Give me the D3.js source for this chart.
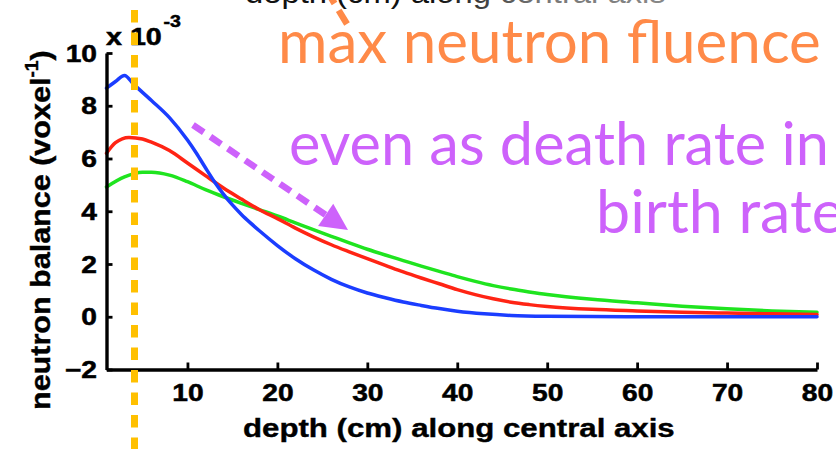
<!DOCTYPE html>
<html>
<head>
<meta charset="utf-8">
<script src="https://cdn.jsdelivr.net/npm/d3@7"></script>
<style>
  html, body { margin: 0; padding: 0; background: #fff; overflow: hidden; }
  svg { display: block; }
</style>
</head>
<body>
<script>
// Depth along the central axis (cm) and neutron balance (x 1e-3 per voxel)
const depthTicks = [10, 20, 30, 40, 50, 60, 70, 80];
const balanceTicks = [-2, 0, 2, 4, 6, 8, 10];

const blueDepth   = [1, 2, 3, 4, 6, 8, 10, 11, 12, 13, 14, 15, 16, 17, 18, 20, 22, 24, 26, 28, 30, 32, 34, 36, 38, 40, 43, 46, 50, 55, 60, 70, 80];
const blueBalance = [8.67, 8.92, 9.15, 8.82, 8.2, 7.55, 6.7, 6.2, 5.65, 5.12, 4.65, 4.24, 3.88, 3.56, 3.26, 2.7, 2.2, 1.78, 1.42, 1.13, 0.9, 0.72, 0.56, 0.43, 0.31, 0.21, 0.11, 0.05, 0.02, 0.01, 0.0, 0.0, 0.0];

const redDepth   = [1, 2, 3.5, 5, 6, 8, 10, 12, 14, 16, 18, 20, 22, 24, 26, 28, 30, 32, 34, 36, 38, 40, 42, 44, 46, 48, 50, 55, 60, 65, 70, 75, 80];
const redBalance = [6.2, 6.6, 6.8, 6.74, 6.62, 6.3, 5.83, 5.35, 4.88, 4.46, 4.06, 3.72, 3.36, 3.03, 2.73, 2.46, 2.2, 1.95, 1.7, 1.47, 1.25, 1.03, 0.84, 0.68, 0.55, 0.46, 0.39, 0.28, 0.22, 0.17, 0.14, 0.11, 0.09];

const greenDepth   = [1, 3, 5, 6, 8, 10, 12, 14, 16, 18, 20, 22, 24, 26, 28, 30, 32, 34, 36, 38, 40, 42, 44, 46, 48, 50, 55, 60, 65, 70, 75, 80];
const greenBalance = [4.92, 5.3, 5.48, 5.48, 5.37, 5.12, 4.82, 4.55, 4.3, 4.06, 3.82, 3.56, 3.3, 3.05, 2.8, 2.56, 2.34, 2.13, 1.92, 1.72, 1.52, 1.34, 1.18, 1.05, 0.94, 0.84, 0.66, 0.53, 0.4, 0.3, 0.22, 0.17];

const seriesColors = ["#1b3dff", "#ff2414", "#1fe41f"];

const W = 836, H = 449;
const svg = d3.select("body").append("svg").attr("width", W).attr("height", H);

const x = d3.scaleLinear().domain([1, 80]).range([106.5, 817]);
const y = d3.scaleLinear().domain([-2, 10]).range([369.5, 53]);

const AXIS_FONT = "'Liberation Sans', Arial, Helvetica, sans-serif";
const SLIDE_FONT = "Lato, 'Open Sans', sans-serif";

// horizontal factor that makes a text element's advance equal `width`
function fitWidth(sel, width) {
  return width / sel.node().getComputedTextLength();
}

// ---- top caption (cut off by the top edge), fading to grey on the right
{
  const grad = svg.append("defs").append("linearGradient")
    .attr("id", "captionFade").attr("x1", 0).attr("x2", 1).attr("y1", 0).attr("y2", 0);
  grad.append("stop").attr("offset", "0%").attr("stop-color", "#111");
  grad.append("stop").attr("offset", "45%").attr("stop-color", "#111");
  grad.append("stop").attr("offset", "70%").attr("stop-color", "#777");
  grad.append("stop").attr("offset", "100%").attr("stop-color", "#888");
  const g = svg.append("g");
  const t = g.append("text")
    .attr("font-family", AXIS_FONT).attr("font-size", 30).attr("fill", "url(#captionFade)")
    .text("depth (cm) along central axis");
  const k = fitWidth(t, 421);
  g.attr("transform", `translate(245,3) scale(${k},1)`);
}

// ---- curves
const line = d3.line().x(d => x(d[0])).y(d => y(d[1])).curve(d3.curveMonotoneX);
const series = [
  [greenDepth, greenBalance, seriesColors[2]],
  [redDepth, redBalance, seriesColors[1]],
  [blueDepth, blueBalance, seriesColors[0]]
];
series.forEach(([dx, dv, c]) => {
  svg.append("path")
    .datum(dx.map((d, i) => [d, dv[i]]))
    .attr("fill", "none").attr("stroke", c).attr("stroke-width", 3.5)
    .attr("stroke-linejoin", "round").attr("stroke-linecap", "round")
    .attr("d", line);
});

// ---- axes (ticks pointing inward)
const TK = 1.2; // horizontal stretch for the axis lettering
const xAxisG = svg.append("g").attr("transform", `translate(0,${y(-2)})`)
  .call(d3.axisBottom(x).tickValues(depthTicks).tickSize(-7).tickSizeOuter(0).tickFormat(d3.format("d")));
const yAxisG = svg.append("g").attr("transform", `translate(${x(1)},0)`)
  .call(d3.axisLeft(y).tickValues(balanceTicks).tickSize(-6).tickSizeOuter(0).tickFormat(d3.format("d")));

[xAxisG, yAxisG].forEach(g => {
  g.select(".domain").attr("stroke", "#000").attr("stroke-width", 3.4);
  g.selectAll(".tick line").attr("stroke", "#000").attr("stroke-width", 2.8);
  g.selectAll(".tick text")
    .attr("fill", "#000").attr("stroke", "#000").attr("stroke-width", 0.5)
    .attr("font-family", AXIS_FONT).attr("font-size", 23.5).attr("font-weight", "bold");
});
xAxisG.selectAll(".tick text")
  .attr("y", 31.5).attr("dy", null)
  .attr("transform", `scale(${TK},1)`);
yAxisG.selectAll(".tick text")
  .attr("x", -9.5 / TK).attr("dy", "0.35em")
  .attr("transform", `scale(${TK},1)`);

// exponent above the y axis
{
  const t = svg.append("text")
    .attr("font-family", AXIS_FONT).attr("font-weight", "bold").attr("fill", "#000")
    .attr("stroke", "#000").attr("stroke-width", 0.5)
    .attr("transform", `translate(106,45) scale(1.22,1)`);
  t.append("tspan").attr("font-size", 23.5).text("x 10");
  t.append("tspan").attr("font-size", 16).attr("dy", -18).attr("dx", 1.5).text("-3");
}

// axis titles
{
  const g = svg.append("g");
  const t = g.append("text")
    .attr("font-family", AXIS_FONT).attr("font-size", 26.5).attr("font-weight", "bold").attr("fill", "#000")
    .attr("stroke", "#000").attr("stroke-width", 0.4)
    .text("depth (cm) along central axis");
  const k = fitWidth(t, 432);
  g.attr("transform", `translate(243,437) scale(${k},1)`);
}
{
  const g = svg.append("g");
  const t = g.append("text")
    .attr("font-family", AXIS_FONT).attr("font-size", 28.5).attr("font-weight", "bold").attr("fill", "#000")
    .attr("stroke", "#000").attr("stroke-width", 0.4);
  t.append("tspan").text("neutron balance (voxel");
  t.append("tspan").attr("font-size", 18).attr("dy", -12).text("-1");
  t.append("tspan").attr("dy", 12).text(")");
  const k = fitWidth(t, 360);
  g.attr("transform", `translate(49.5,410) rotate(-90) scale(${k},1)`);
}

// ---- slide annotations
const ORANGE = "#ff8a48", PURPLE = "#cd62fb";

function slideText(str, x0, base, width, color) {
  const g = svg.append("g");
  const t = g.append("text")
    .attr("font-family", SLIDE_FONT).attr("font-size", 60).attr("fill", color).text(str);
  const k = fitWidth(t, width);
  g.attr("transform", `translate(${x0},${base}) scale(${k},1)`);
}
slideText("max neutron fluence", 278, 63, 543, ORANGE);
slideText("even as death rate in", 289, 165, 540, PURPLE);
slideText("birth rate", 596, 233, 248, PURPLE);

// orange dashed pointer leaving the top edge
svg.append("line")
  .attr("x1", 347).attr("y1", 24).attr("x2", 316).attr("y2", -27)
  .attr("stroke", ORANGE).attr("stroke-width", 6.5)
  .attr("stroke-dasharray", "16 8");

// purple dashed arrow
{
  const x0 = 193, y0 = 125, tx = 348, ty = 230;
  const L = Math.hypot(tx - x0, ty - y0);
  const ux = (tx - x0) / L, uy = (ty - y0) / L;
  const headLen = 27, headHalf = 13.5;
  const bx = tx - headLen * ux, by = ty - headLen * uy;
  svg.append("line")
    .attr("x1", x0).attr("y1", y0).attr("x2", bx + 2 * ux).attr("y2", by + 2 * uy)
    .attr("stroke", PURPLE).attr("stroke-width", 6.5)
    .attr("stroke-dasharray", "13 8");
  svg.append("path")
    .attr("d", `M${tx},${ty} L${bx - headHalf * uy},${by + headHalf * ux} L${bx + headHalf * uy},${by - headHalf * ux} Z`)
    .attr("fill", PURPLE);
}

// gold dashed marker at the depth of maximum fluence
svg.append("line")
  .attr("x1", 134.5).attr("x2", 134.5).attr("y1", -12.5).attr("y2", H + 10)
  .attr("stroke", "#ffc000").attr("stroke-width", 7)
  .attr("stroke-dasharray", "12.5 10");
</script>
</body>
</html>
